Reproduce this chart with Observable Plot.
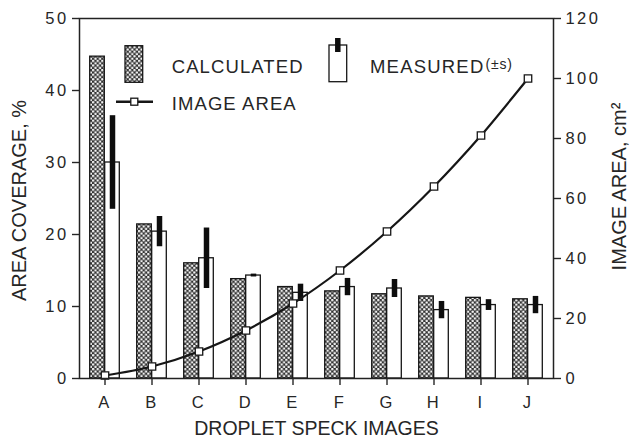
<!DOCTYPE html>
<html><head><meta charset="utf-8">
<script src="https://cdn.jsdelivr.net/npm/d3@7"></script>
<script src="https://cdn.jsdelivr.net/npm/@observablehq/plot@0.6"></script>
<style>
html,body{margin:0;padding:0;background:#fff;}
#chart svg{display:block;}
#chart text{font-family:"Liberation Sans",Arial,Helvetica,sans-serif;}
g[aria-label$="tick label"] text{letter-spacing:2.4px;}
g[aria-label="axis title"] text{letter-spacing:1.8px;}
</style></head><body><div id="chart"></div>
<script>
// ---- data ----
const categories = ["A","B","C","D","E","F","G","H","I","J"];
const calculated = [44.7, 21.4, 16.0, 13.8, 12.7, 12.1, 11.7, 11.4, 11.2, 11.0];   // area coverage, %
const measured   = [30.0, 20.4, 16.7, 14.3, 11.9, 12.7, 12.5, 9.5, 10.2, 10.2];    // area coverage, %
const measuredSD = [6.5, 2.1, 4.2, 0.2, 1.2, 1.2, 1.25, 1.2, 0.75, 1.2];          // ± s
const imageArea  = [1, 4, 9, 16, 25, 36, 49, 64, 81, 100];                         // cm²
const leftTicks  = [0, 10, 20, 30, 40, 50];
const rightTicks = [0, 20, 40, 60, 80, 100, 120];
const leftMax = 50, rightMax = 120;
const legendLabels = ["CALCULATED", "MEASURED", "(±s)", "IMAGE AREA"];
const xTitle = "DROPLET SPECK IMAGES";
const yTitle = "AREA COVERAGE, %";
const y2Title = "IMAGE AREA, cm²";

const k = leftMax / rightMax;
const rows = categories.map((c, i) => ({cat: c, calc: calculated[i], meas: measured[i], sd: measuredSD[i], area: imageArea[i]}));
const ink = "#161616";
const textInk = "#262626";
const font = '"Liberation Sans", Arial, Helvetica, sans-serif';

const chart = Plot.plot({
  width: 636, height: 439,
  marginLeft: 79, marginRight: 83, marginTop: 18, marginBottom: 61,
  style: {fontFamily: font, fontSize: "16.5px", color: textInk, background: "#fff"},
  x: {type: "band", domain: categories, padding: 0},
  y: {domain: [0, leftMax]},
  marks: [
    Plot.barY(rows, {x: "cat", y: "calc", fill: "url(#speck)", stroke: ink, strokeWidth: 1.3, insetLeft: 8.7, insetRight: 23.7}),
    Plot.barY(rows, {x: "cat", y: "meas", fill: "white", stroke: ink, strokeWidth: 1.3, insetLeft: 23.7, insetRight: 8.7}),
    Plot.ruleX(rows, {x: "cat", y1: d => d.meas - d.sd, y2: d => d.meas + d.sd, dx: 7.5, stroke: "#0d0d0d", strokeWidth: 5.5}),
    Plot.line(rows, {x: "cat", y: d => d.area * k, curve: "catmull-rom", stroke: ink, strokeWidth: 2.2}),
    Plot.dot(rows, {x: "cat", y: d => d.area * k, symbol: "square", r: 4.2, fill: "white", stroke: ink, strokeWidth: 1.3}),
    Plot.frame({stroke: "#222", strokeWidth: 1.5}),
    Plot.axisY({anchor: "left", ticks: leftTicks, tickSize: 7, tickPadding: 4, fontSize: 16.5, label: null, strokeWidth: 1.4}),
    Plot.axisY({anchor: "right", ticks: rightTicks.map(v => v * k), tickFormat: d => String(Math.round(d / k)), tickSize: 7, tickPadding: 5, fontSize: 16.5, label: null, strokeWidth: 1.4}),
    Plot.axisX({anchor: "bottom", tickSize: 7, tickPadding: 11, fontSize: 16.5, label: null, strokeWidth: 1.4}),
    Plot.text([xTitle], {frameAnchor: "bottom", textAnchor: "middle", lineAnchor: "middle", dy: 50, fontSize: 19.5, ariaLabel: "axis title"}),
    Plot.text([yTitle], {frameAnchor: "left", textAnchor: "middle", lineAnchor: "middle", rotate: -90, dx: -59.5, dy: 2, fontSize: 20, ariaLabel: "axis title"}),
    Plot.text([y2Title], {frameAnchor: "right", textAnchor: "middle", lineAnchor: "middle", rotate: -90, dx: 66.5, dy: -12, fontSize: 20, ariaLabel: "axis title"})
  ]
});

document.getElementById("chart").appendChild(chart);

// pattern for the calculated bars
const svg = d3.select(chart);
const defs = svg.insert("defs", ":first-child");
const s = 4.6;
const pat = defs.append("pattern").attr("id", "speck").attr("patternUnits", "userSpaceOnUse").attr("width", s).attr("height", s);
pat.append("rect").attr("width", s).attr("height", s).attr("fill", "#333");
pat.append("circle").attr("cx", s/4).attr("cy", s/4).attr("r", 1.25).attr("fill", "#f4f4f4");
pat.append("circle").attr("cx", 3*s/4).attr("cy", 3*s/4).attr("r", 1.25).attr("fill", "#f4f4f4");

// legend inside the plot area
const lg = svg.append("g").attr("font-family", font).attr("fill", textInk).attr("text-anchor", "start");
lg.append("rect").attr("x", 125).attr("y", 45.7).attr("width", 17.7).attr("height", 36.6)
  .attr("fill", "url(#speck)").attr("stroke", ink).attr("stroke-width", 1.3);
lg.append("text").attr("x", 171.7).attr("y", 73.3).attr("font-size", 18.5).attr("letter-spacing", 1.1).attr("text-anchor", "start").text(legendLabels[0]);
lg.append("rect").attr("x", 329).attr("y", 45).attr("width", 17.7).attr("height", 36.7)
  .attr("fill", "white").attr("stroke", ink).attr("stroke-width", 1.3);
lg.append("line").attr("x1", 337.8).attr("x2", 337.8).attr("y1", 38).attr("y2", 52)
  .attr("stroke", "#0d0d0d").attr("stroke-width", 5.5);
const mt = lg.append("text").attr("x", 370).attr("y", 73.3).attr("font-size", 18.5).attr("letter-spacing", 1.2).attr("text-anchor", "start");
mt.append("tspan").text(legendLabels[1]);
mt.append("tspan").attr("font-size", 14).attr("dy", -4).attr("dx", 1).attr("letter-spacing", 0.8).text(legendLabels[2]);
lg.append("line").attr("x1", 116).attr("x2", 153).attr("y1", 101.7).attr("y2", 101.7)
  .attr("stroke", ink).attr("stroke-width", 2.5);
lg.append("rect").attr("x", 134.3 - 3.5).attr("y", 101.7 - 3.5).attr("width", 7).attr("height", 7)
  .attr("fill", "white").attr("stroke", ink).attr("stroke-width", 1.3);
lg.append("text").attr("x", 171.7).attr("y", 110).attr("font-size", 18.5).attr("letter-spacing", 1.1).attr("text-anchor", "start").text(legendLabels[3]);
</script>
</body></html>
